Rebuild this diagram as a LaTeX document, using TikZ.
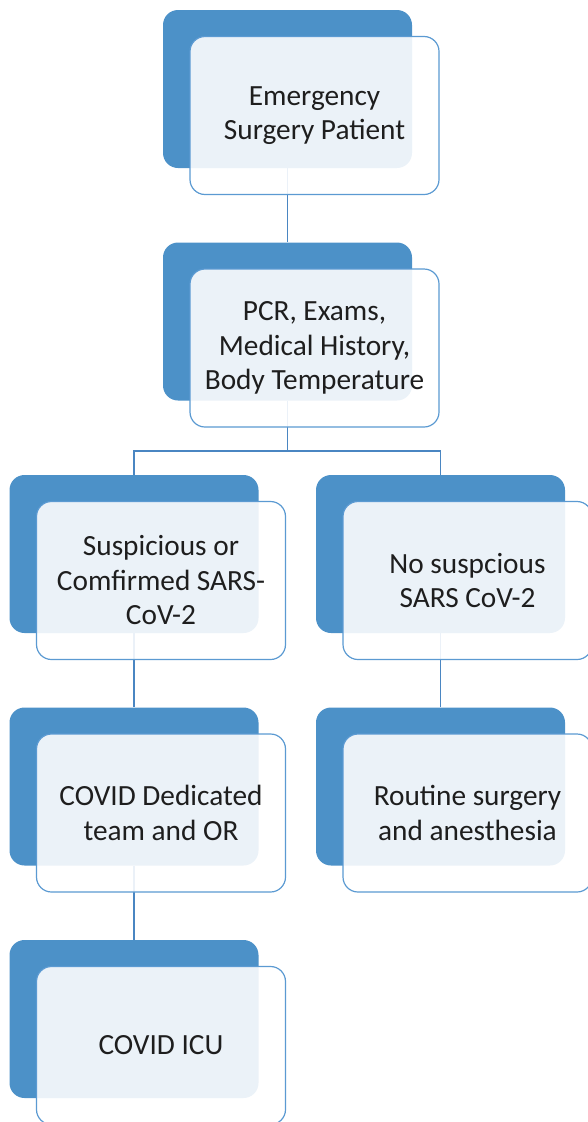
\documentclass[tikz,border=0pt]{standalone}
\usepackage{fontspec}
\setmainfont{Carlito}
\begin{document}
\begin{tikzpicture}[x=1pt,y=-1pt,
  backbox/.style={rectangle, rounded corners=15pt, fill=backblue, draw=none,
    minimum width=249pt, minimum height=158pt, inner sep=0pt},
  frontbox/.style={rectangle, rounded corners=15pt, fill=white, fill opacity=0.89,
    text opacity=1, draw=frontline, line width=1.2pt,
    minimum width=249pt, minimum height=158pt, inner sep=0pt,
    align=center, text=textgray, font=\fontsize{29.3}{34.5}\selectfont},
  link/.style={draw=linkblue, line width=1.7pt}]
\definecolor{backblue}{HTML}{4C91C8}
\definecolor{frontline}{HTML}{5B9AD2}
\definecolor{linkblue}{HTML}{4A86C2}
\definecolor{textgray}{HTML}{1E1E1E}
\useasboundingbox (0,0) rectangle (588,1122);
\clip (0,0) rectangle (588,1122);

% back panels
\node[backbox] (b1)  at (287.5,89)    {};
\node[backbox] (b2)  at (287.5,321.5) {};
\node[backbox] (b3l) at (134,554)     {};
\node[backbox] (b3r) at (440.5,554)   {};
\node[backbox] (b4l) at (134,786.5)   {};
\node[backbox] (b4r) at (440.5,786.5) {};
\node[backbox] (b5)  at (134,1019)    {};

% connectors between the panels
\coordinate (split) at (287.5,451);
\draw[link] (b1.south) -- (b2.north);
\draw[link] (b2.south) -- (split);
\draw[link] (b3l.north) |- (split) -| (b3r.north);
\draw[link] (b3l.south) -- (b4l.north);
\draw[link] (b3r.south) -- (b4r.north);
\draw[link] (b4l.south) -- (b5.north);

% front cards with the labels
\node[frontbox] (f1)  at (314.5,115.5) {Emergency\\Surgery Patient};
\node[frontbox] (f2)  at (314.5,348)   {PCR, Exams,\\Medical History,\\Body Temperature};
\node[frontbox] (f3l) at (161,580.5)   {Suspicious or\\Comfirmed SARS-\\CoV-2};
\node[frontbox] (f3r) at (467.5,580.5) {No suspcious\\SARS CoV-2};
\node[frontbox] (f4l) at (161,813)     {COVID Dedicated\\team and OR};
\node[frontbox] (f4r) at (467.5,813)   {Routine surgery\\and anesthesia};
\node[frontbox] (f5)  at (161,1045.5)  {COVID ICU};
\end{tikzpicture}
\end{document}
